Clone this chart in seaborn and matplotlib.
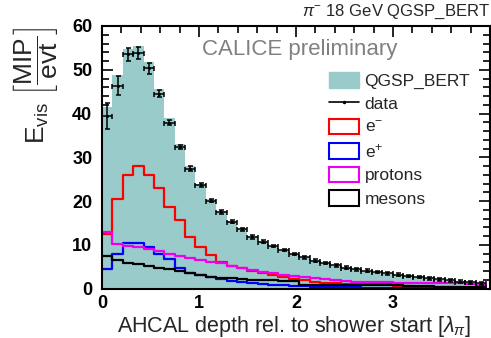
import numpy as np
import pandas as pd
import matplotlib
matplotlib.use("Agg")
import matplotlib.pyplot as plt
import seaborn as sns
from matplotlib.patches import Patch
from matplotlib.lines import Line2D
from matplotlib.ticker import MultipleLocator

sns.set_theme(style="ticks")
plt.rcParams['font.family'] = ['Liberation Sans', 'DejaVu Sans']
plt.rcParams['mathtext.fontset'] = 'custom'
plt.rcParams['mathtext.rm'] = 'Liberation Sans'
plt.rcParams['mathtext.it'] = 'Liberation Sans:italic'

# ---- data (bin width ~0.107 lambda_pi, 37 bins) ----
bin_width = 0.107
n_bins = 37

qgsp_bert = [41.5, 48.8, 54.8, 55.5, 51.8, 45.5, 39.0, 33.0, 28.0, 24.0, 20.5, 17.8,
             15.5, 13.6, 12.0, 10.8, 9.8, 8.9, 8.0, 7.2, 6.5, 5.9, 5.4, 4.9, 4.5,
             4.1, 3.8, 3.5, 3.2, 2.9, 2.6, 2.4, 2.1, 1.9, 1.7, 1.5, 1.3]

data_vals = [39.4, 46.4, 53.5, 53.8, 50.3, 44.5, 37.9, 32.4, 27.4, 23.7, 20.1, 17.5,
             15.3, 13.5, 11.8, 10.7, 9.7, 8.8, 7.9, 7.1, 6.4, 5.8, 5.3, 4.8, 4.4,
             4.1, 3.8, 3.5, 3.2, 2.9, 2.6, 2.3, 2.1, 1.9, 1.6, 1.4, 1.2]
data_err = [2.9, 2.1, 1.5, 1.3, 1.3, 0.8, 0.6, 0.5, 0.5, 0.5, 0.4, 0.4,
            0.4, 0.4, 0.4, 0.3, 0.3, 0.3, 0.3, 0.3, 0.3, 0.3, 0.3, 0.3, 0.3,
            0.3, 0.3, 0.3, 0.3, 0.3, 0.3, 0.3, 0.3, 0.3, 0.3, 0.3, 0.3]

e_minus = [12.4, 20.5, 25.9, 28.0, 25.9, 22.9, 18.7, 15.7, 11.8, 9.5, 7.7, 6.0,
           5.1, 4.6, 4.1, 3.5, 3.1, 2.6, 2.2, 1.9, 1.6, 1.3, 1.2, 1.1, 1.0,
           1.0, 1.0, 1.0, 0.6, 0.5, 0.4, 0.4, 0.3, 0.3, 0.2, 0.2, 0.2]

e_plus = [4.5, 8.0, 10.5, 10.5, 9.5, 8.0, 6.8, 4.8, 3.6, 3.1, 2.6, 2.2,
          1.8, 1.5, 1.3, 1.0, 0.8, 0.7, 0.6, 0.5, 0.4, 0.4, 0.3, 0.3, 0.3,
          0.2, 0.2, 0.2, 0.2, 0.1, 0.1, 0.1, 0.1, 0.1, 0.1, 0.1, 0.1]

protons = [13.0, 10.1, 9.8, 9.4, 9.0, 8.6, 8.0, 7.4, 7.0, 6.6, 6.1, 5.8,
           5.1, 4.6, 4.2, 3.8, 3.5, 3.2, 2.9, 2.7, 2.3, 2.1, 1.9, 1.7, 1.6,
           1.6, 1.6, 1.6, 1.2, 1.2, 1.2, 1.2, 1.2, 1.2, 1.2, 1.0, 0.8]

mesons = [7.4, 6.5, 5.9, 5.5, 5.1, 4.8, 4.4, 4.0, 3.5, 3.0, 2.7, 2.5,
          2.3, 2.1, 1.9, 1.9, 1.9, 1.8, 1.8, 0.9, 0.9, 0.9, 0.8, 0.8, 0.8,
          0.8, 0.8, 0.8, 0.7, 0.6, 0.5, 0.5, 0.4, 0.4, 0.3, 0.3, 0.3]

legend_labels = ["QGSP_BERT", "data", "e$^{-}$", "e$^{+}$", "protons", "mesons"]

edges = (np.arange(n_bins + 1) * bin_width).tolist()
centers = [0.5 * (a + b) for a, b in zip(edges[:-1], edges[1:])]

df = pd.DataFrame({"x": centers, "qgsp": qgsp_bert, "em": e_minus, "ep": e_plus,
                   "prot": protons, "mes": mesons})

teal = "#9acbcb"

fig = plt.figure(figsize=(4.91, 3.38), dpi=100)
ax = fig.add_axes([102/491, 1 - 288.5/338, 388/491, (288.5 - 26)/338])

sns.histplot(data=df, x="x", weights="qgsp", bins=edges, element="step", fill=True,
             color=teal, alpha=1.0, linewidth=0, ax=ax)
for col_name, col in [("em", "#ff0000"), ("ep", "#0000ff"),
                      ("prot", "#ee00ee"), ("mes", "#000000")]:
    sns.histplot(data=df, x="x", weights=col_name, bins=edges, element="step",
                 fill=False, color=col, linewidth=1.6, ax=ax)

ax.errorbar(centers, data_vals, yerr=data_err, xerr=bin_width / 2, fmt="o",
            ms=1.2, color="black", ecolor="black", elinewidth=1.1, capsize=1.8,
            capthick=1.1, zorder=5)

ax.set_xlim(0, 4.0)
ax.set_ylim(0, 60)
ax.set_ylabel("")
ax.set_xlabel("")
ax.xaxis.set_major_locator(MultipleLocator(1))
ax.xaxis.set_minor_locator(MultipleLocator(0.2))
ax.yaxis.set_major_locator(MultipleLocator(10))
ax.yaxis.set_minor_locator(MultipleLocator(2))
ax.tick_params(which="both", direction="in", top=True, right=True,
               labelsize=13, colors="black", width=1.2)
ax.tick_params(which="major", length=8)
ax.tick_params(which="minor", length=5)
ax.tick_params(axis="y", pad=7)
ax.tick_params(axis="x", pad=5)
ax.set_xticks([0, 1, 2, 3])
for lab in ax.get_xticklabels() + ax.get_yticklabels():
    lab.set_fontweight("bold")
for sp in ax.spines.values():
    sp.set_visible(True)
    sp.set_linewidth(1.5)
    sp.set_color("black")

fig.text(117/491, 1 - 332/338, r"AHCAL depth rel. to shower start [$\lambda_{\pi}$]",
         fontsize=15.5, ha="left", va="baseline")
fig.text(36/491, 1 - 85/338,
         r"$\mathrm{E}_{\mathrm{vis}}\ \left[\dfrac{\mathrm{MIP}}{\mathrm{evt}}\right]$",
         fontsize=19, rotation=90, ha="center", va="center")
fig.text(202/491, 1 - 50/338, "CALICE preliminary",
         fontsize=16, color="#808080", ha="left", va="center")
fig.text(490/491, 1 - 12/338, r"$\pi^{-}$ 18 GeV QGSP_BERT", fontsize=12,
         ha="right", va="center")

handles = [Patch(facecolor=teal, edgecolor=teal),
           Line2D([0], [0], color="black", lw=1.2, marker="o", ms=1.5),
           Patch(facecolor="white", edgecolor="#ff0000", lw=1.5),
           Patch(facecolor="white", edgecolor="#0000ff", lw=1.5),
           Patch(facecolor="white", edgecolor="#ee00ee", lw=1.5),
           Patch(facecolor="white", edgecolor="#000000", lw=1.5)]
ax.legend(handles, legend_labels, loc="upper left",
          bbox_to_anchor=(329/491, 1 - 72/338), bbox_transform=fig.transFigure,
          frameon=False, fontsize=12.5, handlelength=1.75, handleheight=1.0,
          handletextpad=0.3, labelspacing=0.38, borderpad=0, borderaxespad=0)

fig.savefig("out.png", dpi=100)
